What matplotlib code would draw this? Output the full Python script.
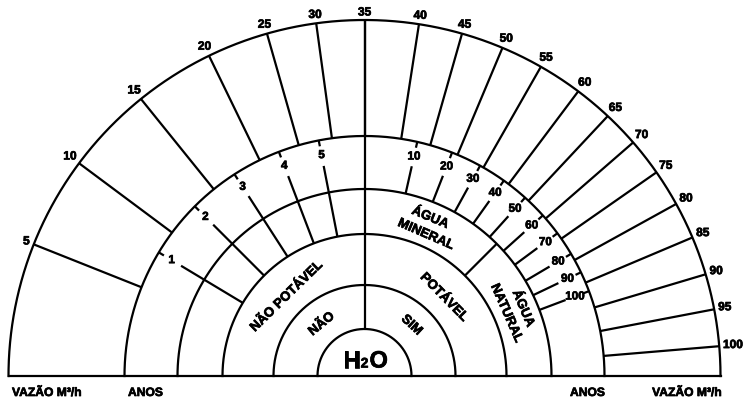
import numpy as np
import matplotlib
matplotlib.use('Agg')
import matplotlib.pyplot as plt
import matplotlib.patheffects as pe

plt.rcParams['font.family'] = ['Liberation Sans', 'DejaVu Sans']
plt.rcParams['font.weight'] = 'bold'

# flow scale (outer ring): value -> angle on the dial (degrees)
vazao_values = [5, 10, 15, 20, 25, 30, 35, 40, 45, 50,
                55, 60, 65, 70, 75, 80, 85, 90, 95, 100]
vazao_angles = [158.3, 143.3, 128.9, 115.9, 105.9, 97.8, 90.0, 81.2, 74.1, 67.2,
                60.3, 53.1, 46.9, 41.0, 34.9, 28.9, 22.9, 16.6, 10.8, 4.8]

# years scale: value -> angle on the dial (degrees)
anos_values = [1, 2, 3, 4, 5, 10, 20, 30, 40, 50, 60, 70, 80, 90, 100]
anos_angles = [149.0, 135.0, 122.8, 110.9, 101.0,
               77.3, 68.6, 61.2, 54.5, 48.0, 42.0, 36.5, 30.6, 25.6, 20.7]

# ring radii, inner to outer
rings = [47, 91, 142, 187, 240, 356]

LW = 1.6
K = 'black'
FX = [pe.withStroke(linewidth=0.5, foreground=K)]


def pol(r, a):
    a = np.radians(a)
    return r * np.cos(a), r * np.sin(a)


def radial(a, r0, r1):
    x0, y0 = pol(r0, a)
    x1, y1 = pol(r1, a)
    ax.plot([x0, x1], [y0, y1], color=K, lw=LW, solid_capstyle='butt')


def label(txt, r, a, size, rot=0):
    x, y = pol(r, a)
    ax.text(x, y, txt, fontsize=size, fontweight='bold', ha='center',
            va='center', rotation=rot, rotation_mode='anchor', path_effects=FX)


def caption(x, txt, ha):
    ax.text(x, -17, txt, fontsize=8.7, ha=ha, va='center', path_effects=FX)


fig = plt.figure(figsize=(7.44, 4.04), dpi=100)
ax = fig.add_axes([0, 0, 1, 1])
ax.set_xlim(-364.5, 379.5)
ax.set_ylim(-28, 376)
ax.axis('off')

# arcs and base line
th = np.linspace(0, 180, 500)
for r in rings:
    x, y = pol(r, th)
    ax.plot(x, y, color=K, lw=LW)
ax.plot([-rings[-1], rings[-1]], [0, 0], color=K, lw=LW)

# centre divider
radial(90, rings[0], rings[-1])
# mineral / natural divider
radial(45, rings[2], rings[3])

# flow scale
for v, a in zip(vazao_values, vazao_angles):
    radial(a, rings[4], rings[5])
    w = 7.0 * len(str(v))
    off = 3 + w / 2 * abs(np.cos(np.radians(a))) + 4.5 * abs(np.sin(np.radians(a)))
    label(str(v), rings[5] + off, a, 8.6)

# years scale
for v, a in zip(anos_values, anos_angles):
    radial(a, rings[4] - 6, rings[4])
    if v <= 5:
        radial(a, 214, rings[2])
    else:
        radial(a, 215, rings[3])
    label(str(v), 225, a, 8.4)

# ring texts
label('NÃO POTÁVEL', 111, 134.3, 9.5, 44.3)
label('POTÁVEL', 111.5, 44.6, 9.5, -45.4)
label('NÃO', 67, 129.5, 9.5, 39.5)
label('SIM', 69, 47.2, 9.5, -42.8)
label('ÁGUA', 171, 67.4, 9.5, -22.6)
label('MINERAL', 154, 66.5, 9.5, -23.5)
label('ÁGUA', 172, 23.0, 9.5, -67.0)
label('NATURAL', 155, 23.8, 9.5, -66.2)

# H2O in the centre
ax.text(-4, 8.5, 'H', fontsize=17, ha='right', va='baseline', path_effects=FX)
ax.text(0, 8.5, '2', fontsize=10, ha='center', va='baseline', path_effects=FX)
ax.text(5, 8.5, 'O', fontsize=17, ha='left', va='baseline', path_effects=FX)

# bottom captions
caption(-352.5, 'VAZÃO M³/h', 'left')
caption(-236.5, 'ANOS', 'left')
caption(240.5, 'ANOS', 'right')
caption(357.5, 'VAZÃO M³/h', 'right')

fig.savefig('out.png', dpi=100)
